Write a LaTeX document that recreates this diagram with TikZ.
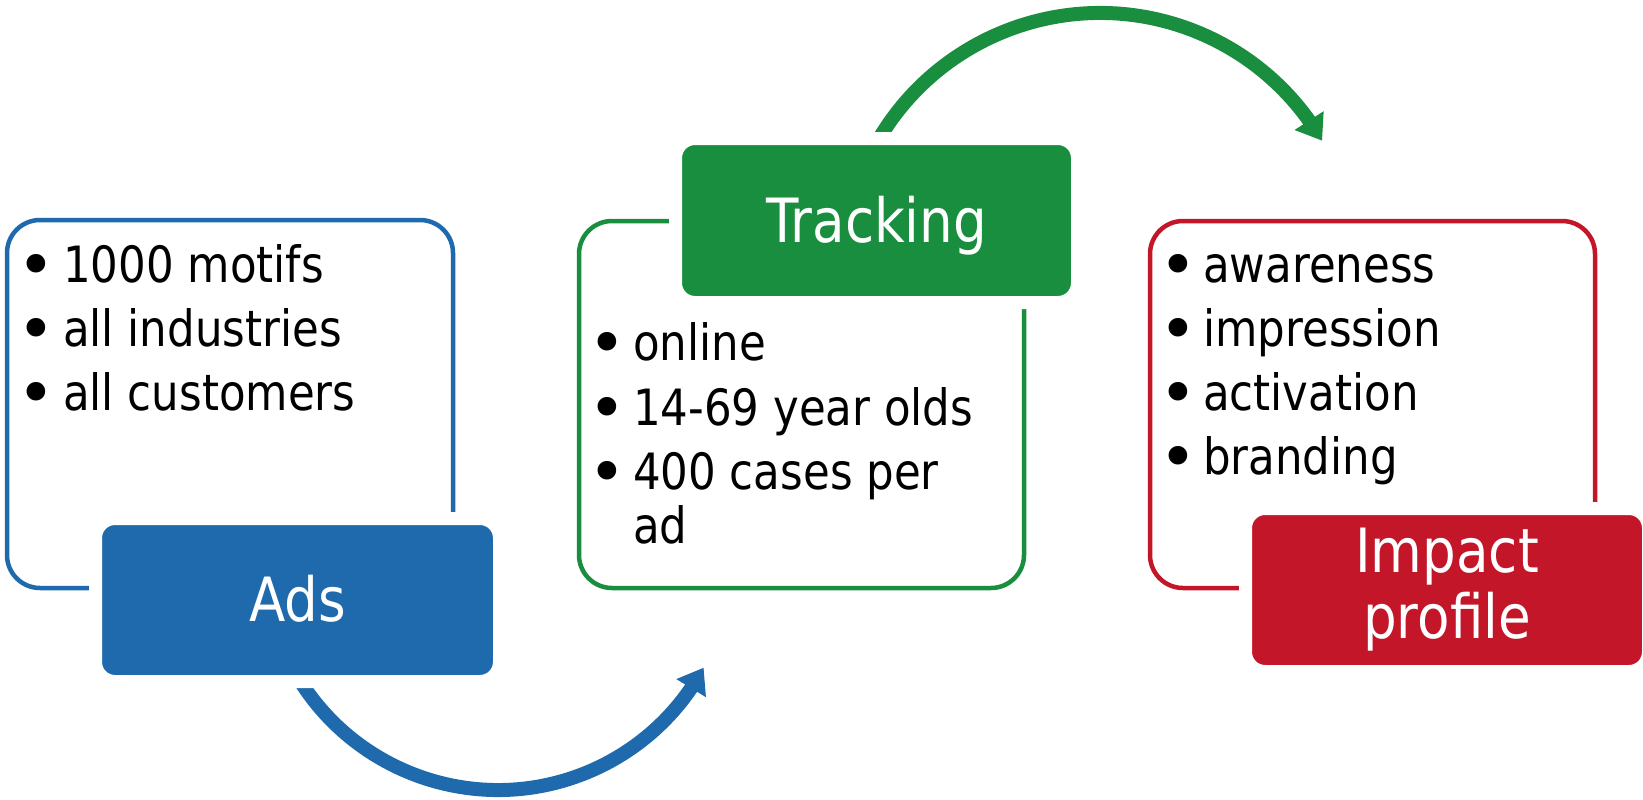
\documentclass[tikz,border=0pt]{standalone}
\usepackage{fontspec}
\setmainfont{DejaVu Sans}[FakeStretch=0.87]
\newfontfamily\bulletfont{DejaVu Sans}
\usetikzlibrary{arrows.meta,bending,calc}
\definecolor{adsblue}{RGB}{30,106,172}
\definecolor{trackgreen}{RGB}{25,142,62}
\definecolor{impactred}{RGB}{195,22,41}
\begin{document}
\begin{tikzpicture}[x=1pt,y=-1pt,
  outline/.style={line width=4.5pt, rounded corners=33pt},
  titlebox/.style={rectangle, draw=white, line width=13pt, rounded corners=19.5pt,
    text=white, inner sep=0pt, align=center, font=\fontsize{61}{66}\selectfont},
  oneline/.style={text height=47pt, text depth=4pt},
  item/.style={anchor=base west, inner sep=0pt, font=\fontsize{50}{64}\selectfont},
  dot/.style={anchor=base, inner sep=0pt, yshift=-5pt, font=\bulletfont\fontsize{64}{64}\selectfont},
  flow/.style={line width=14pt, -{Triangle[length=24pt,width=33pt,flex]}}]
\useasboundingbox (0,0) rectangle (1643,800);

% outline boxes
\draw[outline, adsblue] (7,220) rectangle (453,588);
\draw[outline, trackgreen] (579,221) rectangle (1024,588);
\draw[outline, impactred] (1150,221) rectangle (1595,588);

% curved arrows
\coordinate (blueC) at (498,556);
\coordinate (greenC) at (1100,270);
\coordinate (adsOut) at ($(blueC)+(155:234)$);
\coordinate (trackOut) at ($(greenC)+(205:257)$);
\draw[flow, adsblue] (adsOut) arc[start angle=155, end angle=28.5, radius=234];
\draw[flow, trackgreen] (trackOut) arc[start angle=205, end angle=329.8, radius=257];

% title boxes
\node[titlebox, oneline, fill=adsblue, minimum width=404pt, minimum height=163pt] (ads) at (297.5,600) {Ads};
\node[titlebox, oneline, fill=trackgreen, minimum width=402pt, minimum height=164pt] (tracking) at (876.5,220.5) {Tracking};
\node[titlebox, fill=impactred, minimum width=403pt, minimum height=163pt] (impact) at (1447,590) {Impact\\profile};

% bullet lists
\foreach \t [count=\i] in {1000 motifs, all industries, all customers} {
  \node[dot] (adsdot\i) at (36,{218+64*\i}) {•};
  \node[item] (adsitem\i) at (63,{218+64*\i}) {\t};
}
\node[dot] (trdot1) at (607,360) {•};
\node[item] (tritem1) at (633,360) {online};
\node[dot] (trdot2) at (607,425) {•};
\node[item] (tritem2) at (633,425) {14-69 year olds};
\node[dot] (trdot3) at (607,489) {•};
\node[item] (tritem3) at (633,489) {400 cases per};
\node[item] (tritem4) at (633,543) {ad};
\foreach \t [count=\i] in {awareness, impression, activation, branding} {
  \node[dot] (impdot\i) at (1178,{218+64*\i}) {•};
  \node[item] (impitem\i) at (1203,{218+64*\i}) {\t};
}
\end{tikzpicture}
\end{document}
